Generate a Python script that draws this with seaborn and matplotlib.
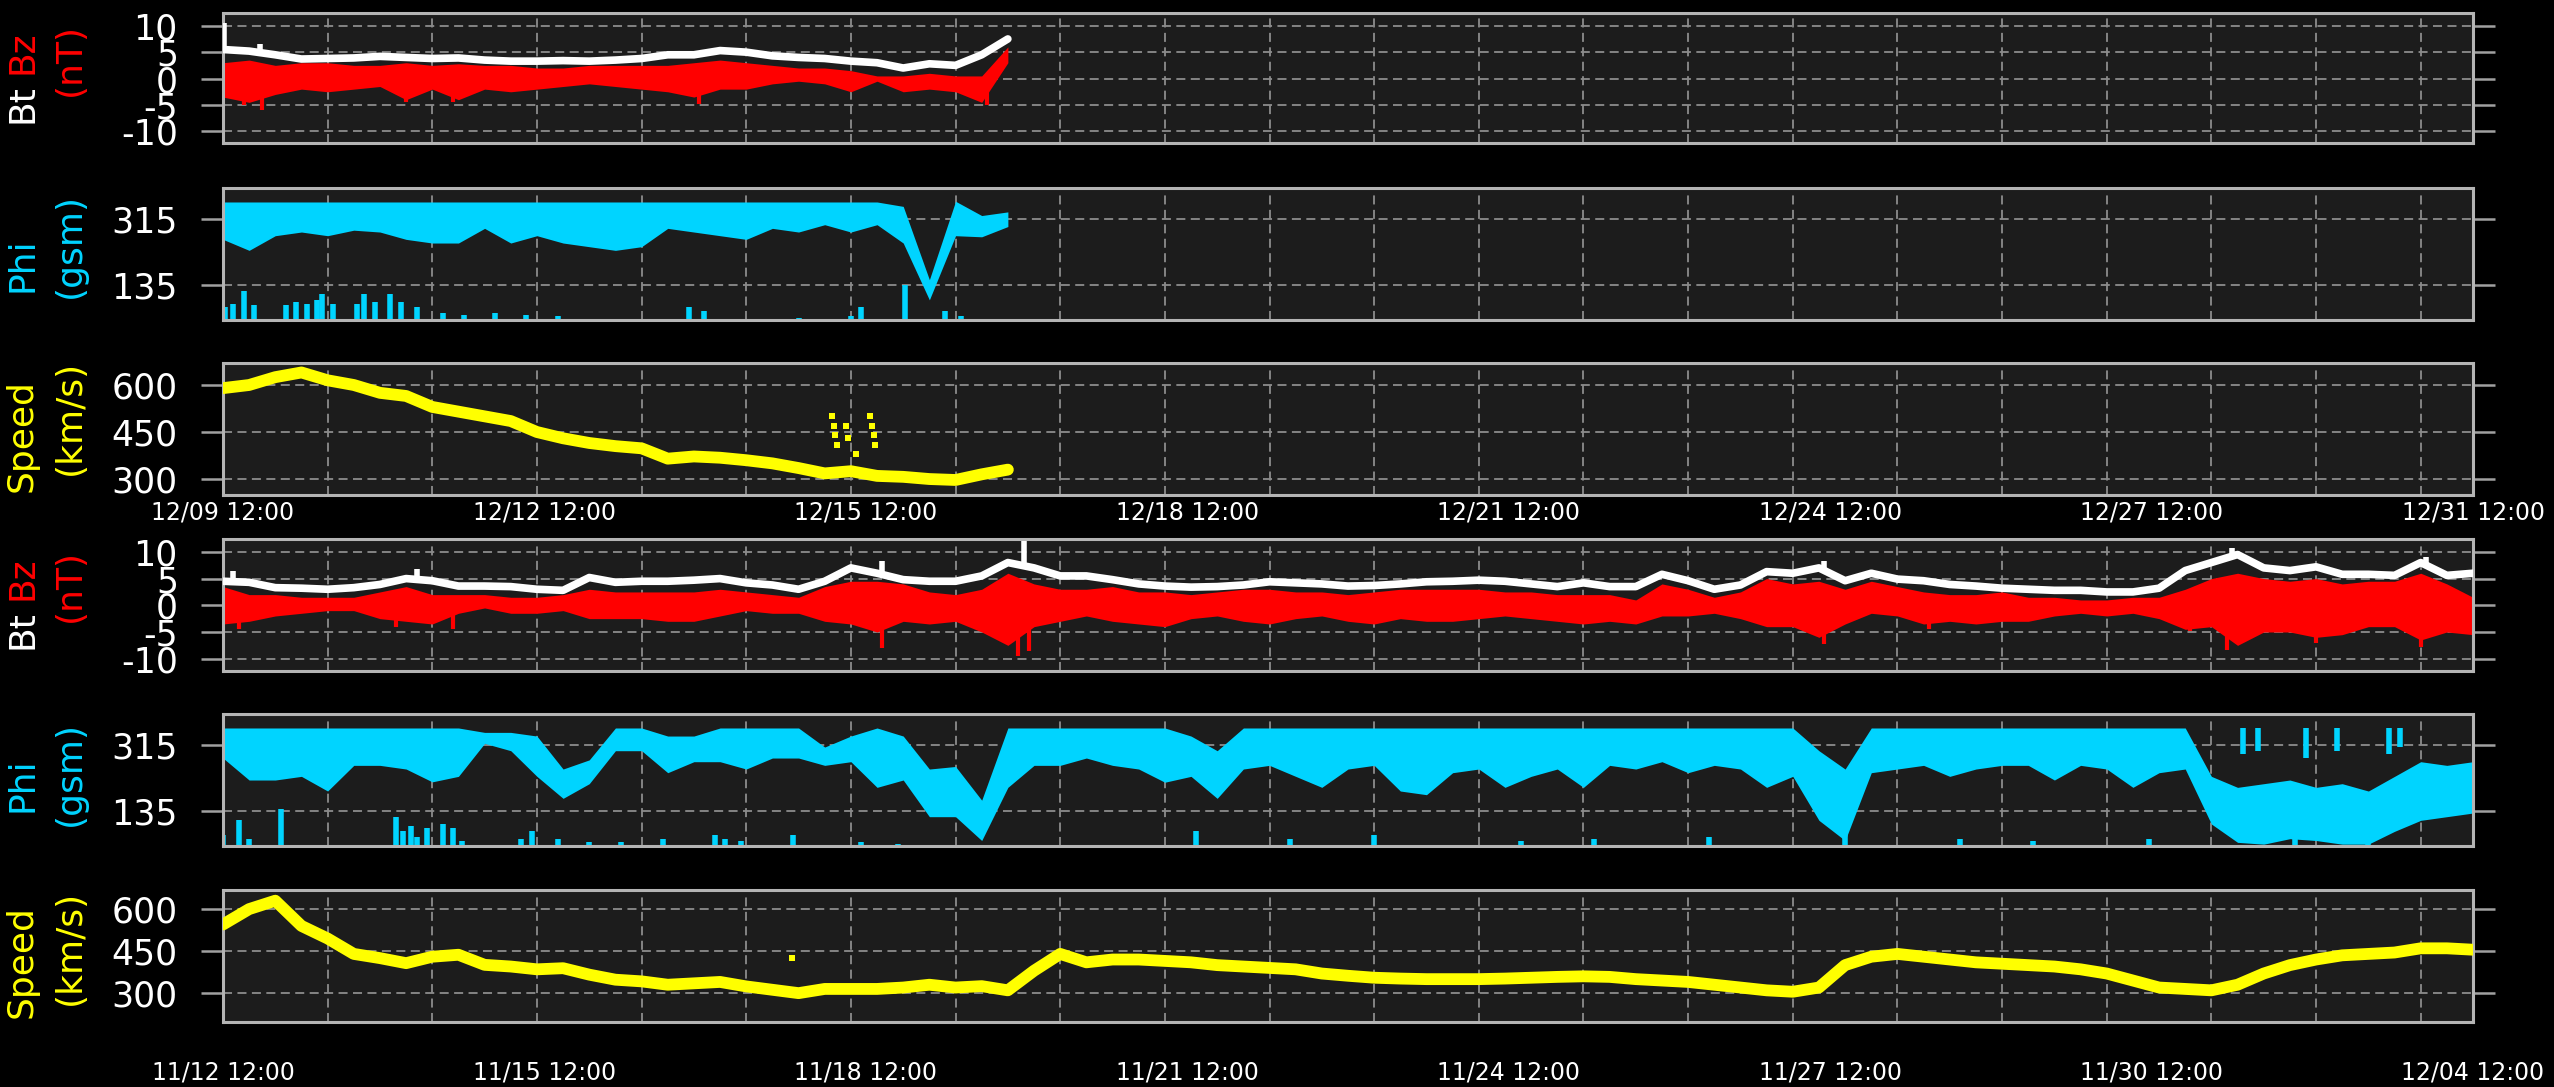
import numpy as np
import pandas as pd
import matplotlib
matplotlib.use("Agg")
import matplotlib.pyplot as plt
import seaborn as sns

# x axis = days since the first label, samples every quarter day
STEP = 0.25
SPAN = 21.5

top_labels = ["12/09 12:00", "12/12 12:00", "12/15 12:00", "12/18 12:00",
              "12/21 12:00", "12/24 12:00", "12/27 12:00", "12/31 12:00"]
bottom_labels = ["11/12 12:00", "11/15 12:00", "11/18 12:00", "11/21 12:00",
                 "11/24 12:00", "11/27 12:00", "11/30 12:00", "12/04 12:00"]

# ---- upper block (12/09 onwards, data stops after ~7.5 days) ----
bt_top = [5.5, 5.2, 4.5, 3.7, 3.8, 3.9, 4.2, 4.0, 3.8, 3.9, 3.5, 3.3, 3.3, 3.4, 3.3, 3.5,
          3.8, 4.5, 4.5, 5.3, 5.0, 4.3, 4.0, 3.8, 3.3, 3.0, 2.0, 2.8, 2.5, 4.5, 7.5]
bt_top_spike_t = [0.01, 0.35]
bt_top_spike_v = [10.5, 6.5]
bz_top_hi = [3, 3.5, 2.5, 3, 3, 2.5, 2.5, 3, 2.5, 2.8, 2.5, 2.5, 2, 2, 2.5, 2.5,
             2.5, 2.5, 3, 3.5, 3, 2.5, 2, 2, 1.5, 0.5, 0.5, 1, 0.5, 0.5, 6]
bz_top_lo = [-3.5, -4.5, -3, -2, -2.5, -2, -1.5, -4, -2, -4, -2, -2.5, -2, -1.5, -1, -1.5,
             -2, -2.5, -3.5, -2, -2, -1, -0.5, -1, -2.5, -0.5, -2.5, -2, -2.5, -4.5, 3]
bz_top_spike_t = [0.2, 0.37, 1.75, 2.2, 4.55, 7.3]
bz_top_spike_v = [-5, -6, -4.5, -4.5, -4.8, -5]
phi_top_hi = [362] * 26 + [350, 150, 364, 325, 335]
phi_top_lo = [260, 230, 270, 280, 270, 285, 280, 260, 250, 250, 290, 250, 270, 250, 240, 230,
              240, 290, 280, 270, 260, 290, 280, 300, 280, 300, 250, 95, 270, 267, 295]
phi_top_dip_t = [0.02, 0.1, 0.2, 0.3, 0.6, 0.7, 0.8, 0.9, 0.95, 1.05, 1.28, 1.35, 1.45, 1.6,
                 1.7, 1.85, 2.1, 2.3, 2.6, 2.9, 3.2, 4.45, 4.6, 5.5, 6.0, 6.1, 6.52, 6.9, 7.05]
phi_top_dip_v = [75, 85, 118, 80, 80, 90, 85, 95, 110, 85, 85, 110, 90, 110,
                 90, 75, 60, 55, 60, 55, 50, 75, 65, 45, 50, 75, 135, 65, 50]
speed_top = [590, 600, 625, 640, 615, 600, 575, 565, 530, 515, 500, 485, 450, 430, 415, 405,
             398, 365, 372, 368, 360, 350, 335, 318, 325, 310, 307, 300, 297, 315, 330]
speed_top_pts_t = [5.82, 5.84, 5.85, 5.87, 5.95, 5.97, 6.05, 6.18, 6.2, 6.22, 6.23]
speed_top_pts_v = [500, 470, 440, 410, 470, 430, 380, 500, 470, 440, 410]

# ---- lower block (11/12 to 12/04) ----
bt_bot = [4.5, 4.3, 3.3, 3.2, 3.0, 3.3, 3.9, 5.0, 4.6, 3.6, 3.6, 3.5, 3.0, 2.8, 5.2, 4.3,
          4.5, 4.5, 4.7, 5.0, 4.2, 3.8, 3.0, 4.5, 7.0, 6.0, 4.8, 4.5, 4.5, 5.5, 8.0, 7.0,
          5.5, 5.5,
          4.8, 4.0, 3.6, 3.4, 3.5, 3.8, 4.4, 4.2, 4.0, 3.6, 3.7, 4.0, 4.4, 4.5, 4.7, 4.5,
          4.0, 3.5, 4.2,
          3.5, 3.5, 5.8, 4.6, 3.0, 3.8, 6.3, 6.0, 7.0, 4.6, 6.0, 4.9, 4.6, 3.9, 3.6, 3.2,
          3.0, 2.8, 2.8, 2.5, 2.5, 3.2, 6.5, 8.0, 9.5, 7.0, 6.5, 7.2, 5.8, 5.8, 5.6, 8.0,
          5.6, 6.0]
bt_bot_spike_t = [0.1, 1.85, 6.3, 7.65, 15.3, 19.2, 21.05]
bt_bot_spike_v = [6.4, 6.7, 8.3, 12.0, 8.3, 10.8, 9.0]
bz_bot_hi = [3.5, 2.0, 2.0, 1.5, 1.5, 1.5, 2.5, 3.5, 2.0, 2.0, 2.0, 1.5, 1.5, 2.0, 3.0, 2.5,
             2.5, 2.5, 2.5, 3.0, 2.5, 2.0, 1.5, 3.5, 4.5, 4.5, 4.0, 2.5, 2.0, 3.0, 6.0, 4.0,
             3.0, 3.0,
             3.5, 2.5, 2.5, 2.0, 2.5, 3.0, 3.0, 2.5, 2.5, 2.0, 2.5, 3.0, 3.0, 3.0, 3.0, 2.5,
             2.5, 2.0, 2.0,
             2.0, 1.0, 4.0, 3.0, 1.5, 2.5, 5.0, 4.0, 4.5, 3.0, 4.5, 3.5, 2.5, 2.0, 2.0, 2.5,
             1.5, 1.5, 1.0, 1.0, 1.5, 1.5, 3.0, 5.0, 6.0, 5.0, 4.5, 5.0, 4.0, 4.5, 4.5, 6.0,
             4.0, 1.5]
bz_bot_lo = [-3.5, -3.0, -2.0, -1.5, -1.0, -1.0, -2.5, -3.0, -3.5, -1.5, -0.5, -1.5, -1.5,
             -1.0, -2.5, -2.5, -2.5, -3.0, -3.0, -2.0, -1.0, -1.5, -1.5, -3.0, -3.5, -5.0,
             -3.0, -3.5, -3.0, -5.0, -7.5, -4.0, -3.0, -2.0,
             -3.0, -3.5, -4.0, -2.5, -2.0, -3.0, -3.5, -2.5, -2.0, -3.0, -3.5, -2.5, -3.0,
             -3.0, -2.5, -2.0, -2.5, -3.0, -3.5,
             -3.0, -3.5, -2.0, -2.0, -1.5, -2.5, -4.0, -4.0, -6.0, -3.5, -1.5, -2.0, -3.5,
             -3.0, -3.5, -3.0, -3.0, -2.0, -1.5, -2.0, -1.5, -2.5, -4.5, -4.0, -7.5, -5.0,
             -5.0, -6.0, -5.5, -4.0, -4.0, -6.5, -5.0, -5.5]
bz_bot_spike_t = [0.15, 1.65, 2.2, 6.3, 7.6, 7.7, 15.3, 16.3, 18.8, 19.15, 20.0, 21.0]
bz_bot_spike_v = [-4.5, -4.0, -4.5, -8.0, -9.5, -8.5, -7.3, -4.5, -4.8, -8.3, -7.0, -7.9]
phi_bot_hi = [362, 362, 362, 362, 362, 362, 362, 362, 362, 362, 350, 350, 340, 250, 275, 362,
              362, 340, 340, 362, 362, 362, 362, 310, 340, 362, 340, 250, 257, 165, 362, 362,
              362, 362,
              362, 362, 362, 340, 300, 362, 362, 362, 362, 362, 362, 362, 362, 362, 362, 362,
              362, 362, 362,
              362, 362, 362, 362, 362, 362, 362, 362, 300, 250, 362, 362, 362, 362, 362, 362,
              362, 362, 362, 362, 362, 362, 362, 230, 200, 210, 220, 200, 210, 190, 230, 270,
              260, 270]
phi_bot_lo = [280, 220, 220, 230, 190, 260, 260, 250, 215, 230, 320, 300, 230, 170, 210, 300,
              300, 240, 270, 270, 250, 280, 280, 260, 270, 200, 220, 120, 120, 55, 200, 260,
              260, 280,
              260, 250, 214, 230, 170, 250, 260, 230, 200, 250, 260, 190, 180, 240, 250, 200,
              230, 250, 200,
              260, 250, 270, 240, 260, 250, 200, 230, 110, 55, 240, 250, 260, 230, 250, 260,
              260, 220, 260, 250, 200, 240, 250, 100, 50, 45, 60, 55, 45, 45, 80, 110,
              120, 130]
# short streaks left in the upper band after the main band breaks up
phi_bot_streak_t = [19.3, 19.45, 19.9, 20.2, 20.7, 20.8]
phi_bot_streak_lo = [290, 300, 280, 300, 290, 310]
phi_bot_dip_t = [0.0, 0.15, 0.25, 0.55, 1.65, 1.72, 1.8, 1.85, 1.95, 2.1, 2.2, 2.28, 2.85,
                 2.95, 3.2, 3.5, 3.8, 4.2, 4.7, 4.8, 4.95, 5.45, 6.1, 6.45, 9.3, 10.2, 11.0,
                 12.4, 13.1, 14.2, 15.5, 16.6, 17.3, 18.4, 19.8, 20.5]
phi_bot_dip_v = [70, 110, 60, 140, 120, 80, 95, 65, 90, 100, 90, 55, 60,
                 80, 60, 50, 50, 60, 70, 60, 55, 70, 50, 45, 80, 60, 70,
                 55, 60, 65, 70, 60, 55, 60, 70, 55]
speed_bot = [545, 600, 630, 540, 495, 440, 425, 407, 430, 437, 401, 395, 385, 389, 366, 348,
             342, 330, 335, 340, 324, 312, 300, 315, 315, 315, 320, 330, 320, 325, 310, 380,
             440, 410,
             420, 420, 415, 410, 400, 395, 390, 385, 370, 362, 355, 352, 350, 350, 350, 352,
             355, 358, 360,
             358, 350, 345, 340, 330, 320, 310, 305, 320, 400, 430, 440, 430, 420, 410, 405,
             400, 395, 385, 370, 345, 320, 315, 310, 330, 370, 400, 420, 435, 440, 445, 460,
             460, 455]
speed_bot_pts_t = [5.44]
speed_bot_pts_v = [425]

RED = "#ff0000"
CYAN = "#00d4ff"
YELLOW = "#ffff00"
FACE = "#1c1c1c"
EDGE = "#b4b4b4"
GRIDC = "#8c8c8c"

sns.set_theme(style="dark")
plt.rcParams["font.family"] = ["DejaVu Sans"]

fig = plt.figure(figsize=(25.54, 10.87), dpi=100, facecolor="black")

L, W = 0.0873, 0.881
rects = [(L, 0.8684, W, 0.1196), (L, 0.7056, W, 0.1214), (L, 0.5446, W, 0.1214),
         (L, 0.3827, W, 0.1214), (L, 0.2217, W, 0.1214), (L, 0.0598, W, 0.1214)]
axes = [fig.add_axes(r) for r in rects]


def style(ax, ylim, yticks, labels=None, pad=4):
    ax.set_facecolor(FACE)
    ax.set_axisbelow(True)
    ax.set_xlim(0, SPAN)
    ax.set_ylim(*ylim)
    ax.set_yticks(yticks)
    ax.set_yticklabels([str(v) for v in yticks])
    ax.set_xticks(np.linspace(0, SPAN, 8))
    ax.set_xticks(np.arange(1, 22), minor=True)
    if labels is None:
        ax.set_xticklabels([])
    else:
        ax.set_xticklabels(labels)
    ax.tick_params(axis="x", which="both", length=0, labelsize=17, labelcolor="white", pad=pad)
    ax.tick_params(axis="y", which="major", left=True, right=True, direction="out",
                   length=15.5, width=1.8, color="#a0a0a0", pad=17, labelsize=25,
                   labelcolor="white")
    ax.grid(False)
    ax.xaxis.grid(True, which="minor", color=GRIDC, lw=1.3, ls=(0, (5, 3)))
    ax.yaxis.grid(True, which="major", color=GRIDC, lw=1.3, ls=(0, (5, 3)))
    for s in ax.spines.values():
        s.set_visible(True)
        s.set_color(EDGE)
        s.set_linewidth(2.2)
    ax.set_xlabel("")
    ax.set_ylabel("")


def draw_mag(ax, bt, hi, lo, bz_sp_t, bz_sp_v, bt_sp_t, bt_sp_v):
    t = np.arange(len(bt)) * STEP
    ax.fill_between(t, lo, hi, color=RED, lw=0, zorder=2)
    ax.vlines(bz_sp_t, 0, bz_sp_v, color=RED, lw=3, zorder=2)
    # short Bt spikes rise straight out of the line
    ax.vlines(bt_sp_t, np.interp(bt_sp_t, t, bt), bt_sp_v, color="white", lw=4, zorder=3)
    sns.lineplot(x=t, y=bt, ax=ax, color="white", lw=5.5, zorder=3)


def draw_phi(ax, hi, lo, dip_t, dip_v, st_t=(), st_lo=()):
    t = np.arange(len(hi)) * STEP
    ax.fill_between(t, lo, hi, color=CYAN, lw=0, zorder=2)
    ax.vlines(dip_t, 40, dip_v, color=CYAN, lw=4, zorder=2)
    if len(st_t):
        ax.vlines(st_t, st_lo, 362, color=CYAN, lw=4, zorder=2)


def draw_speed(ax, v, pts_t, pts_v):
    t = np.arange(len(v)) * STEP
    sns.lineplot(x=t, y=v, ax=ax, color=YELLOW, lw=8.5, zorder=3)
    sns.scatterplot(x=pts_t, y=pts_v, ax=ax, color=YELLOW, s=25, marker="s",
                    linewidth=0, zorder=3)


draw_mag(axes[0], bt_top, bz_top_hi, bz_top_lo, bz_top_spike_t, bz_top_spike_v,
         bt_top_spike_t, bt_top_spike_v)
draw_phi(axes[1], phi_top_hi, phi_top_lo, phi_top_dip_t, phi_top_dip_v)
draw_speed(axes[2], speed_top, speed_top_pts_t, speed_top_pts_v)
draw_mag(axes[3], bt_bot, bz_bot_hi, bz_bot_lo, bz_bot_spike_t, bz_bot_spike_v,
         bt_bot_spike_t, bt_bot_spike_v)
draw_phi(axes[4], phi_bot_hi, phi_bot_lo, phi_bot_dip_t, phi_bot_dip_v,
         phi_bot_streak_t, phi_bot_streak_lo)
draw_speed(axes[5], speed_bot, speed_bot_pts_t, speed_bot_pts_v)

style(axes[0], (-12.2, 12.4), [10, 5, 0, -5, -10])
style(axes[1], (40, 400), [315, 135])
style(axes[2], (249, 670), [600, 450, 300], labels=top_labels, pad=4)
style(axes[3], (-12.3, 12.4), [10, 5, 0, -5, -10])
style(axes[4], (40, 400), [315, 135])
style(axes[5], (197, 668), [600, 450, 300], labels=bottom_labels, pad=28)

# two-line coloured axis titles, placed in figure pixels (from the top)
H = 1087.0
FS = 26
X1, X2 = 22 / 2554, 70 / 2554


def side_label(line1_parts, line2, color2, y1, y2):
    for text, color, dy in line1_parts:
        fig.text(X1, 1 - (y1 + dy) / H, text, color=color, fontsize=FS, rotation=90,
                 ha="center", va="center")
    fig.text(X2, 1 - y2 / H, line2, color=color2, fontsize=FS, rotation=90,
             ha="center", va="center")


side_label([("Bt", "white", 27), ("Bz", RED, -25)], "(nT)", RED, 77, 59)
side_label([("Phi", CYAN, 0)], "(gsm)", CYAN, 265, 245)
side_label([("Speed", YELLOW, 0)], "(km/s)", YELLOW, 436, 417)
side_label([("Bt", "white", 27), ("Bz", RED, -25)], "(nT)", RED, 603, 586)
side_label([("Phi", CYAN, 0)], "(gsm)", CYAN, 785, 774)
side_label([("Speed", YELLOW, 0)], "(km/s)", YELLOW, 962, 947)

fig.savefig("out.png", dpi=100, facecolor="black")
